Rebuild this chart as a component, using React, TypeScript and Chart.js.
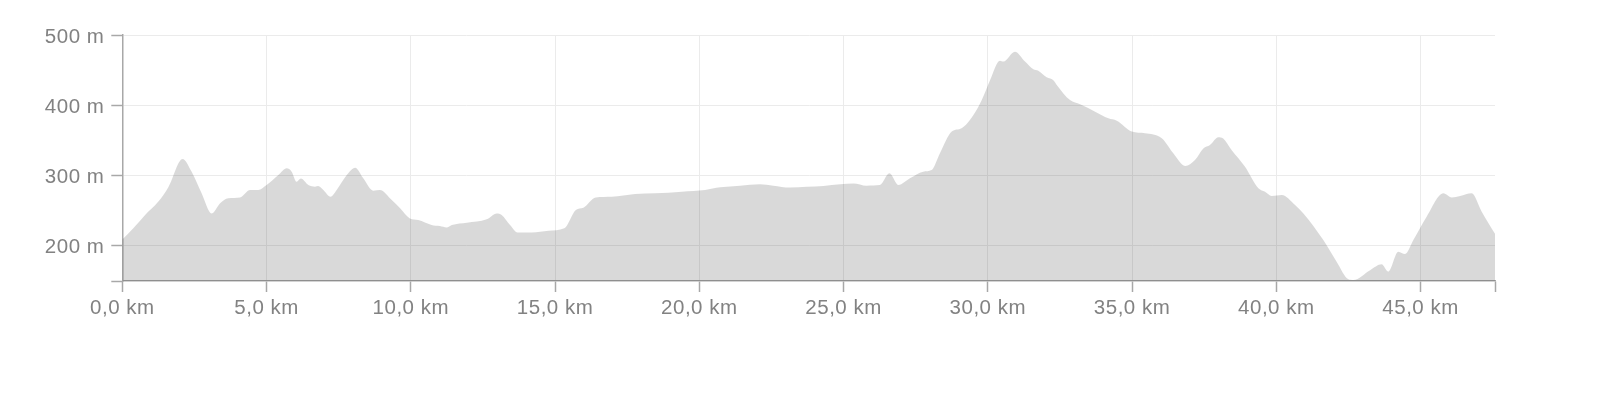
import React, { useEffect, useRef } from "react";
import { Chart, registerables } from "chart.js";

Chart.register(...registerables);

const distanceKm = [
  0, 0.38, 0.79, 1.25, 1.6, 2.09, 2.4, 2.75, 3.1, 3.39, 3.67, 4.08, 4.43, 4.71, 5.0, 5.41, 5.7, 5.87,
  6.04, 6.19, 6.45, 6.68, 6.79, 6.97, 7.22, 7.43, 7.78, 8.07, 8.36, 8.7, 8.93, 9.34, 9.63, 9.97,
  10.26, 10.72, 11.01, 11.24, 11.42, 11.94, 12.63, 12.98, 13.15, 13.44, 13.7, 14.19, 14.77, 15.32,
  15.72, 15.98, 16.41, 16.96, 17.77, 18.46, 19.39, 20.2, 20.72, 21.41, 22.1, 22.57, 23.14, 23.72,
  24.3, 24.88, 25.34, 25.8, 26.26, 26.59, 26.9, 27.3, 27.76, 28.05, 28.34, 28.75, 29.09, 29.5,
  29.79, 30.08, 30.42, 30.54, 30.94, 31.29, 31.58, 31.75, 32.04, 32.29, 32.39, 32.85, 33.2, 33.72,
  34.18, 34.47, 34.99, 35.45, 36.03, 36.43, 36.84, 37.18, 37.47, 37.7, 37.99, 38.16, 38.45, 38.91,
  39.38, 39.61, 39.84, 40.19, 40.65, 40.94, 41.63, 42.09, 42.5, 42.67, 43.25, 43.65, 43.88, 44.23,
  44.46, 44.75, 45.21, 45.79, 46.08, 46.37, 46.77, 47.12, 47.58,
];

const elevationM = [
  208, 224, 243, 262, 283, 323, 305, 274, 245, 259.5, 266.7, 268, 278.6, 278.6, 285.7, 300, 309.5, 304.8,
  290.5, 295, 285.7, 283.3, 284.3, 278.6, 269, 278.6, 300, 310.5, 295, 277.6, 278.6, 264.3, 252.4, 238,
  235.7, 228.6, 227, 225, 228.6, 231.9, 236.7, 245, 242.9, 228.6, 218, 218, 220.5, 223.8,
  250, 253.3, 268, 269, 273, 273.8, 276.2, 278.6, 282.4, 284.8, 286.7, 284.8, 282, 283.3,
  284.3, 286.7, 288, 284.8, 285.7, 302.4, 285.7, 295.2, 304.8, 307, 331, 362, 366.7, 385.7,
  407, 435.7, 463.3, 462, 476, 462, 451, 449, 439.5, 434.8, 428.6, 407, 401, 390.5,
  381, 377.6, 362, 359.5, 352.4, 331, 313, 321.4, 338, 343, 354, 352, 335.7, 312,
  281, 276, 270, 271.4, 257, 245, 207, 176, 151, 150, 164, 172.4, 162, 190.5,
  187, 207, 240.5, 273.8, 268, 270, 273.8, 247.6, 216,
];

const xTickValues = [0, 5, 10, 15, 20, 25, 30, 35, 40, 45];
const yTickValues = [200, 300, 400, 500];
const xMax = 47.58;
const yMin = 148.6;
const yMax = 500;

const FONT = '"Liberation Sans", Arial, Helvetica, sans-serif';
const GRID = "#ebebeb";
const AXIS = "#a8a8a8";
const LABEL = "#828282";

const letterSpacingPlugin = {
  id: "letterSpacing",
  beforeDraw(chart: any) {
    chart.ctx.letterSpacing = "0.5px";
  },
};

export default function App() {
  const ref = useRef<HTMLCanvasElement>(null);

  useEffect(() => {
    const points = distanceKm.map((x, i) => ({ x, y: elevationM[i] }));
    const fmtKm = (v: number) => v.toFixed(1).replace(".", ",") + " km";
    const chart = new Chart(ref.current as HTMLCanvasElement, {
      type: "line",
      data: {
        datasets: [
          {
            data: points,
            fill: "start",
            backgroundColor: "rgba(0,0,0,0.15)",
            borderWidth: 0,
            borderColor: "rgba(0,0,0,0)",
            pointRadius: 0,
            cubicInterpolationMode: "monotone",
          },
        ],
      },
      options: {
        animation: false,
        responsive: true,
        maintainAspectRatio: false,
        layout: { padding: { top: 27, right: 95, bottom: 73, left: 0 } },
        plugins: { legend: { display: false }, tooltip: { enabled: false } },
        scales: {
          x: {
            type: "linear",
            min: 0,
            max: xMax,
            afterBuildTicks: (s: any) => {
              s.ticks = [...xTickValues, xMax].map((v) => ({ value: v }));
            },
            afterFit: (s: any) => {
              s.height = 50;
            },
            grid: {
              color: (c: any) => (c.tick && xTickValues.includes(c.tick.value) ? GRID : "rgba(0,0,0,0)"),
              tickColor: AXIS,
              tickLength: 11,
              lineWidth: 1,
              tickWidth: 1.5,
            },
            border: { color: AXIS, width: 1.5 },
            ticks: {
              color: LABEL,
              font: { family: FONT, size: 20.5 },
              padding: 4,
              maxRotation: 0,
              autoSkip: false,
              callback: (v: any) => (xTickValues.includes(Number(v)) ? fmtKm(Number(v)) : ""),
            },
          },
          y: {
            type: "linear",
            min: yMin,
            max: yMax,
            afterBuildTicks: (s: any) => {
              s.ticks = [yMin, ...yTickValues].map((v) => ({ value: v }));
            },
            afterFit: (s: any) => {
              s.width = 114.3;
            },
            grid: {
              color: (c: any) => (c.tick && yTickValues.includes(c.tick.value) ? GRID : "rgba(0,0,0,0)"),
              tickColor: AXIS,
              tickLength: 11,
              lineWidth: 1,
              tickWidth: 1.5,
            },
            border: { color: AXIS, width: 1.5 },
            ticks: {
              color: LABEL,
              font: { family: FONT, size: 20.5 },
              padding: 7,
              labelOffset: 2,
              autoSkip: false,
              callback: (v: any) => (yTickValues.includes(Number(v)) ? `${v} m` : ""),
            },
          },
        },
      },
      plugins: [letterSpacingPlugin],
    } as any);
    return () => chart.destroy();
  }, []);

  return (
    <div style={{ width: 1582, height: 396, position: "relative" }}>
      <canvas ref={ref} />
    </div>
  );
}
